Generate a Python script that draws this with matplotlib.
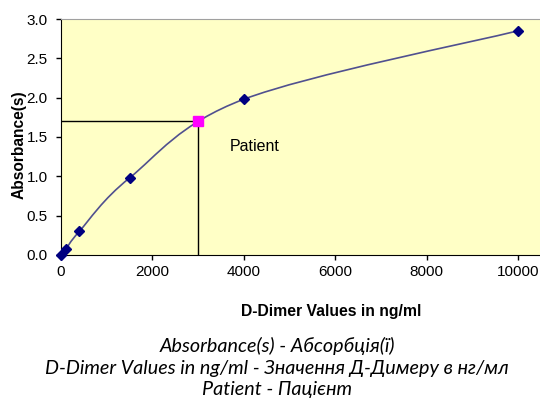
import numpy as np
import matplotlib.pyplot as plt
from matplotlib.path import Path
from matplotlib.patches import PathPatch

# Standard curve data
conc = [0, 100, 400, 1500, 4000, 10000]
absorb = [0.0, 0.07, 0.30, 0.98, 1.98, 2.85]
patient_conc = [3000]
patient_abs = [1.70]

xticks = [0, 2000, 4000, 6000, 8000, 10000]
yticks = [0.0, 0.5, 1.0, 1.5, 2.0, 2.5, 3.0]

captions = ["Absorbance(s) - Абсорбція(ї)",
            "D-Dimer Values in ng/ml - Значення Д-Димеру в нг/мл",
            "Patient - Пацієнт"]

fig = plt.figure(figsize=(5.4, 4.0), dpi=100)
ax = fig.add_axes([0.113, 0.3625, 0.887, 0.59])
ax.set_facecolor('#ffffc6')
ax.set_xlim(0, 10480)
ax.set_ylim(0, 3.0)

# smoothed line (Excel style bezier through the points)
def smooth_path(xs, ys, ax, t=1/6):
    pts = ax.transData.transform(np.column_stack([xs, ys]))
    n = len(pts)
    verts = [pts[0]]
    codes = [Path.MOVETO]
    for i in range(n - 1):
        p0 = pts[max(i - 1, 0)]
        p1 = pts[i]
        p2 = pts[i + 1]
        p3 = pts[min(i + 2, n - 1)]
        c1 = p1 + (p2 - p0) * t
        c2 = p2 - (p3 - p1) * t
        verts += [c1, c2, p2]
        codes += [Path.CURVE4] * 3
    return Path(verts, codes)

fig.canvas.draw()
p = smooth_path(conc, absorb, ax)
ax.add_patch(PathPatch(p, transform=None, fill=False, edgecolor='#50508f', lw=1.2, zorder=3))
ax.plot(conc, absorb, linestyle='none', marker='D', ms=5.5, color='#000080', zorder=4, clip_on=False)

# patient lookup lines
ax.plot([0, patient_conc[0]], [patient_abs[0]] * 2, color='black', lw=1, zorder=2)
ax.plot([patient_conc[0]] * 2, [0, patient_abs[0]], color='black', lw=1, zorder=2)
ax.plot(patient_conc, patient_abs, linestyle='none', marker='s', ms=7.5, color='#ff00ff', zorder=5)
ax.text(3700, 1.375, 'Patient', fontsize=11.5, family='Liberation Sans', color='black', va='center')

ax.set_xticks(xticks)
ax.set_yticks(yticks)
ax.set_xticklabels([str(v) for v in xticks], family='Liberation Sans', fontsize=11)
ax.set_yticklabels(['%.1f' % v for v in yticks], family='Liberation Sans', fontsize=11)
ax.tick_params(direction='out', length=3.5, width=1)
ax.tick_params(axis='x', pad=4)
ax.tick_params(axis='y', pad=6)

ax.spines['right'].set_visible(False)
ax.spines['top'].set_color('#a0a0a0')
ax.spines['left'].set_color('black')
ax.spines['bottom'].set_color('black')

fig.text(0.035, 0.6375, 'Absorbance(s)', rotation=90, ha='center', va='center',
         fontsize=11.2, fontweight='bold', family='Liberation Sans')
fig.text(0.613, 0.222, 'D-Dimer Values in ng/ml', ha='center', va='center',
         fontsize=11.3, fontweight='bold', family='Liberation Sans')

baselines = [0.12, 0.064, 0.012]
for c, yb in zip(captions, baselines):
    fig.text(0.513, yb, c, ha='center', va='baseline', fontsize=14.2,
             style='italic', family=['Lato', 'DejaVu Sans'])

fig.savefig('out.png', dpi=100)
